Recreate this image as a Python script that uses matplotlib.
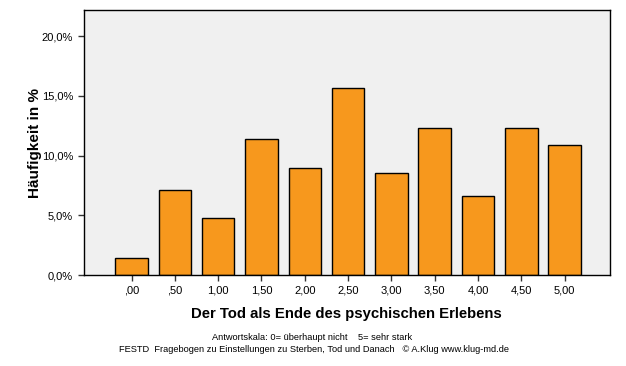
import matplotlib.pyplot as plt
from matplotlib.ticker import FuncFormatter

plt.rcParams['font.family'] = ['Liberation Sans', 'DejaVu Sans']

categories = [",00", ",50", "1,00", "1,50", "2,00", "2,50", "3,00", "3,50", "4,00", "4,50", "5,00"]
percent = [1.4, 7.1, 4.75, 11.4, 9.0, 15.65, 8.55, 12.3, 6.6, 12.3, 10.9]

fig = plt.figure(figsize=(6.26, 3.66), dpi=100)
ax = fig.add_axes([0.134, 0.2486, 0.840, 0.724])
ax.set_facecolor("#F0F0F0")

x = list(range(len(categories)))
ax.bar(x, percent, width=0.75, color="#F7981D", edgecolor="black", linewidth=1.0, zorder=2)

ax.set_xlim(-1.1, len(categories) - 1 + 1.04)
ax.set_ylim(0, 22.2)
ax.set_yticks([0, 5, 10, 15, 20])
ax.yaxis.set_major_formatter(FuncFormatter(lambda v, p: f"{v:.1f}%".replace(".", ",")))
ax.set_xticks(x)
ax.set_xticklabels(categories)
ax.tick_params(axis="both", labelsize=8, length=4.3, width=1, color="#333333")
for s in ax.spines.values():
    s.set_color("black")
    s.set_linewidth(1.0)

ax.set_ylabel("Häufigkeit in %", fontsize=11, fontweight="bold", labelpad=0)
ax.set_xlabel("Der Tod als Ende des psychischen Erlebens", fontsize=10.7, fontweight="bold", labelpad=8)

fig.text(0.498, 1 - 338 / 366, "Antwortskala: 0= überhaupt nicht    5= sehr stark",
         fontsize=6.7, ha="center", va="center")
fig.text(0.502, 1 - 350 / 366,
         "FESTD  Fragebogen zu Einstellungen zu Sterben, Tod und Danach   © A.Klug www.klug-md.de",
         fontsize=6.7, ha="center", va="center")

fig.savefig("out.png", dpi=100)
